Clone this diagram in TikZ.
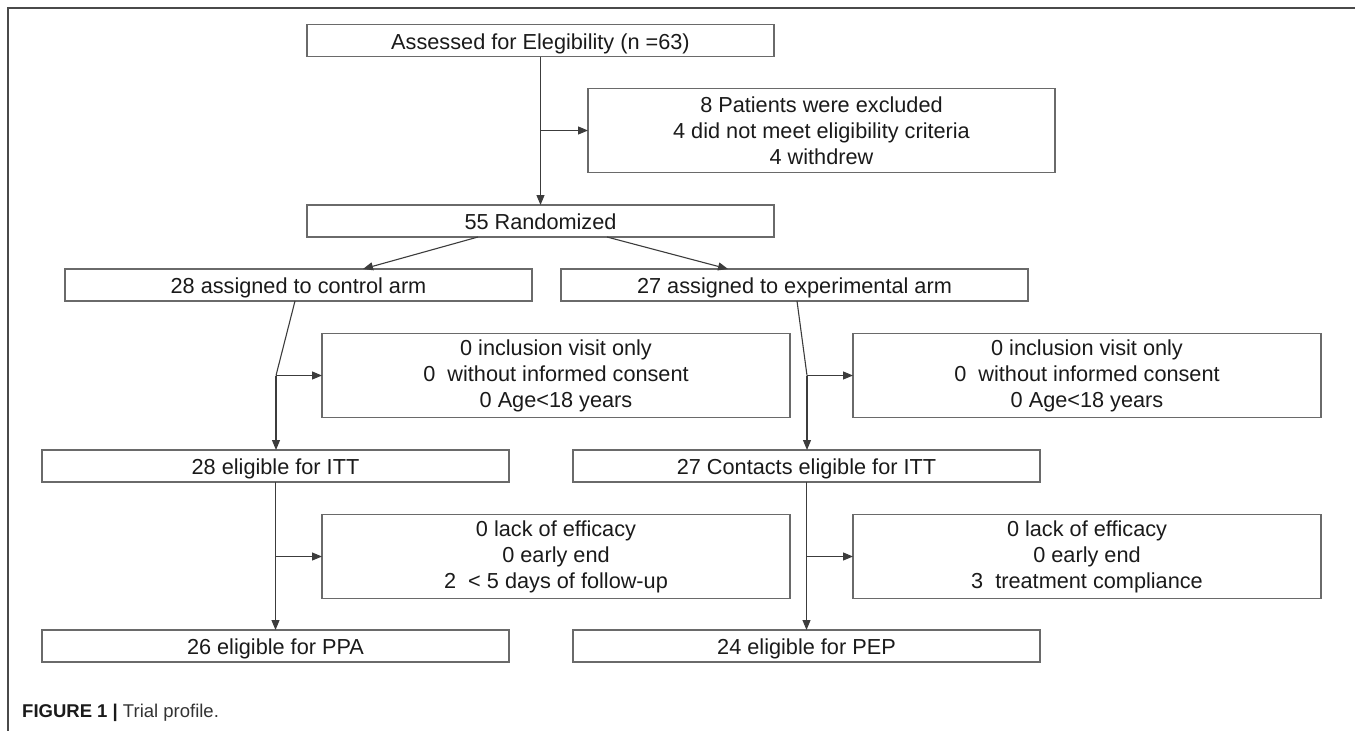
\documentclass[tikz,border=0pt]{standalone}
\usepackage{fontspec}
\setmainfont{Liberation Sans}
\usetikzlibrary{arrows.meta}
\definecolor{boxcol}{HTML}{6A6A6A}
\definecolor{linecol}{HTML}{3C3C3C}
\definecolor{framecol}{HTML}{4A4A4A}
\definecolor{txtcol}{HTML}{1A1A1A}
\begin{document}
\begin{tikzpicture}[x=1pt,y=-1pt,
  box/.style={draw=boxcol, line width=1.3pt, rectangle, inner sep=0pt, outer sep=0pt,
    minimum height=32pt, text=txtcol, align=center,
    font=\fontsize{21.7}{26}\selectfont},
  widebox/.style={box, minimum width=467pt, text height=17pt, text depth=0pt},
  tallbox/.style={box, minimum width=468pt, minimum height=84pt},
  arr/.style={draw=linecol, line width=1.1pt, -{Triangle[length=10pt,width=8pt]}},
  ln/.style={draw=linecol, line width=1.1pt}]
\useasboundingbox (0,0) rectangle (1355,731);
\draw[framecol, line width=1.6pt] (8,731) -- (8,8) -- (1355,8);

\node[widebox] (assess) at (540.5,40.5) {Assessed for Elegibility (n =63)};
\node[tallbox, minimum width=467pt] (excl) at (821.5,130.5) {8 Patients were excluded\\4 did not meet eligibility criteria\\4 withdrew};
\node[widebox] (rand) at (540.5,221) {55 Randomized};
\node[widebox] (ctrl) at (298.5,285) {28 assigned to control arm};
\node[widebox] (expt) at (794.5,285) {27 assigned to experimental arm};
\node[tallbox] (exa) at (556,375.5) {0 inclusion visit only\\0\ \ without informed consent\\0 Age<18 years};
\node[tallbox] (exb) at (1087,375.5) {0 inclusion visit only\\0\ \ without informed consent\\0 Age<18 years};
\node[widebox] (ittl) at (275.5,466) {28 eligible for ITT};
\node[widebox] (ittr) at (806.5,466) {27 Contacts eligible for ITT};
\node[tallbox] (exc) at (556,556.5) {0 lack of efficacy\\0 early end\\2\ \ < 5 days of follow-up};
\node[tallbox] (exd) at (1087,556.5) {0 lack of efficacy\\0 early end\\3\ \ treatment compliance};
\node[widebox] (ppa) at (275.5,646) {26 eligible for PPA};
\node[widebox] (pep) at (806.5,646) {24 eligible for PEP};

\coordinate (b0) at (540.5,130.5);
\coordinate (b1) at (276,375.5);
\coordinate (b2) at (807,375.5);
\coordinate (b3) at (275.5,556.5);
\coordinate (b4) at (806.5,556.5);

\draw[arr] (assess.south) -- (rand.north);
\draw[arr] (b0) -- (excl.west);
\draw[arr] ([xshift=-62.5pt]rand.south) -- ([xshift=64.5pt]ctrl.north);
\draw[arr] ([xshift=66.5pt]rand.south) -- ([xshift=-66.5pt]expt.north);
\draw[ln] ([xshift=-3.5pt]ctrl.south) -- (b1);
\draw[arr] (b1) -- (b1 |- ittl.north);
\draw[arr] (b1) -- (exa.west);
\draw[ln] ([xshift=2.5pt]expt.south) -- (b2);
\draw[arr] (b2) -- (b2 |- ittr.north);
\draw[arr] (b2) -- (exb.west);
\draw[arr] (ittl.south) -- (ppa.north);
\draw[arr] (b3) -- (exc.west);
\draw[arr] (ittr.south) -- (pep.north);
\draw[arr] (b4) -- (exd.west);

\node[anchor=base west, inner sep=0pt, text=txtcol, font=\fontsize{18.5}{22}\selectfont] (cap) at (22,717)
  {\textbf{FIGURE 1 |} {\color{black!80}Trial profile.}};
\end{tikzpicture}
\end{document}
